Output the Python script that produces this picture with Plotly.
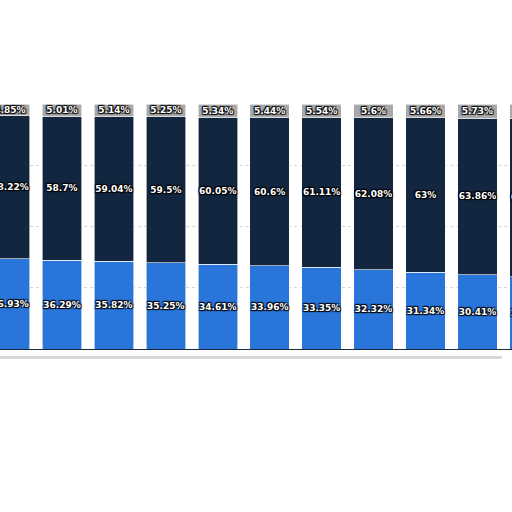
"""
plot.py
Cropped 100% stacked column chart: three shares per period, labels inside every segment.
"""

import plotly.graph_objects as go

# Periods (the axis labels are cut off in the picture, so these are just placeholders)
periods = ["P1", "P2", "P3", "P4", "P5", "P6", "P7", "P8", "P9", "P10", "P11"]

# Shares in percent, bottom to top
share_blue = [36.93, 36.29, 35.82, 35.25, 34.61, 33.96, 33.35, 32.32, 31.34, 30.41, 29.48]
share_navy = [58.22, 58.7, 59.04, 59.5, 60.05, 60.6, 61.11, 62.08, 63, 63.86, 64.72]
share_grey = [4.85, 5.01, 5.14, 5.25, 5.34, 5.44, 5.54, 5.6, 5.66, 5.73, 5.80]

series_names = ["Blue", "Navy", "Grey"]
series_colors = ["#2a75d9", "#12263f", "#a9a9a9"]

# outline look for the white labels
OUTLINE = "1px 1px 1px #000, -1px -1px 1px #000, 1px -1px 1px #000, -1px 1px 1px #000"

fig = go.Figure()

for name, values, color in zip(series_names, [share_blue, share_navy, share_grey], series_colors):
    fig.add_trace(go.Bar(
        x=periods,
        y=values,
        name=name,
        marker=dict(color=color, line=dict(color="white", width=0.6)),
        texttemplate="%{y}%",
        textposition="inside",
        insidetextanchor="middle",
        constraintext="none",
        textangle=0,
        textfont=dict(family="DejaVu Sans", size=9, color="white", weight="bold", shadow=OUTLINE),
    ))

fig.update_layout(
    barmode="stack",
    bargap=0.24,
    width=512,
    height=512,
    margin=dict(l=0, r=0, t=104, b=163),
    paper_bgcolor="white",
    plot_bgcolor="white",
    showlegend=False,
    # faint torn-paper shadow under the cut-out chart
    shapes=[dict(type="line", xref="paper", yref="paper", x0=0, x1=0.98, y0=-0.035, y1=-0.035,
                 line=dict(color="#d9d9d9", width=3))],
)

fig.update_xaxes(
    range=[-0.1925, 9.665],
    showticklabels=False,
    showgrid=False,
    showline=True,
    linecolor="#1b2a3a",
    linewidth=1,
    ticks="",
)

fig.update_yaxes(
    range=[0, 100],
    tickvals=[25, 50, 75],
    showticklabels=False,
    showgrid=True,
    gridcolor="#d6d6d6",
    griddash="dot",
    zeroline=False,
)

# drop the browser's default page margin so the chart sits at the window corner
fig.write_html(
    "out.html",
    config={"displayModeBar": False},
    post_script="document.body.style.margin = '0';",
)
